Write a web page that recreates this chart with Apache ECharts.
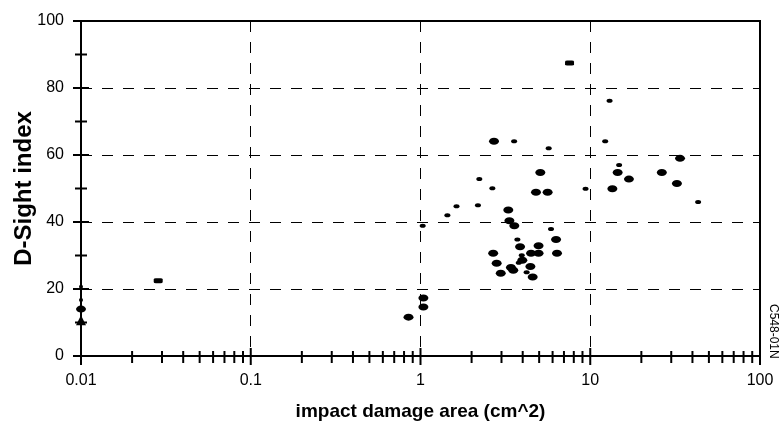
<!DOCTYPE html>
<html>
<head>
<meta charset="utf-8">
<script src="https://cdn.jsdelivr.net/npm/echarts@6/dist/echarts.min.js"></script>
<style>
html,body{margin:0;padding:0;background:#fff;}
#chart{width:783px;height:427px;}
</style>
</head>
<body>
<div id="chart"></div>
<script>
// ---- data ----
var bigX = [2.71, 5.08, 14.5, 16.9, 4.79, 5.61, 13.5, 33.8, 26.4, 32.4, 3.29, 3.34, 3.57, 6.29, 3.86, 4.96, 2.68, 4.48, 4.96, 6.37, 3.98, 2.81, 3.41, 3.52, 4.44, 2.97, 4.58, 1.04, 1.04, 0.85, 0.01];
var bigY = [64.1, 54.8, 54.8, 52.8, 48.9, 48.9, 49.9, 59.0, 54.8, 51.5, 43.6, 40.4, 38.9, 34.8, 32.6, 32.9, 30.7, 30.7, 30.7, 30.7, 28.6, 27.7, 26.4, 25.6, 26.7, 24.7, 23.6, 17.3, 14.6, 11.6, 14.0];
var medX = [0.0285, 7.55];
var medY = [22.5, 87.5];
var smallX = [13.0, 3.56, 12.25, 5.69, 14.8, 2.22, 2.65, 9.38, 43.2, 1.63, 2.18, 1.44, 1.03, 5.87, 3.72, 3.95, 3.79, 4.22];
var smallY = [76.2, 64.1, 64.1, 62.0, 57.0, 52.8, 50.1, 49.9, 46.0, 44.7, 45.0, 42.0, 38.9, 37.9, 34.8, 30.1, 27.8, 25.0];
var tinyX = [0.01, 0.01];
var tinyY = [16.7, 20.7];
var triX = [0.01];
var triY = [10.7];

var xTickValues = [0.01, 0.1, 1, 10, 100];
var xTickLabels = ['0.01', '0.1', '1', '10', '100'];
var yTickValues = [0, 20, 40, 60, 80, 100];
var yMinorValues = [10, 30, 50, 70, 90];
var xMinorMultipliers = [2, 3, 4, 5, 6, 7, 8, 9];

var xTitle = 'impact damage area (cm^2)';
var yTitle = 'D-Sight index';
var tagText = 'C548-01N';

function zip(xs, ys) { return xs.map(function (x, i) { return [x, ys[i]]; }); }

var xMinorValues = [];
for (var d = 0; d < xTickValues.length - 1; d++) {
  xMinorMultipliers.forEach(function (m) { xMinorValues.push(xTickValues[d] * m); });
}

var ellipse = 'path://M0,5 A5,5 0 1,1 10,5 A5,5 0 1,1 0,5 Z';
var FONT = 'Liberation Sans, Arial, sans-serif';

function tickSeries(items, dir) {
  return {
    type: 'custom',
    silent: true,
    clip: false,
    z: 3,
    data: items,
    renderItem: function (params, api) {
      var v = api.value(0), kind = api.value(1);
      var p, shape;
      if (dir === 'x') {
        p = api.coord([v, 0]);
        var up = kind === 1 ? 8 : 5, dn = kind === 1 ? 9 : 7;
        shape = { x1: p[0], y1: p[1] - up, x2: p[0], y2: p[1] + dn };
      } else {
        p = api.coord([0.01, v]);
        var l = kind === 1 ? 8 : 6;
        shape = { x1: p[0] - l, y1: p[1], x2: p[0] + l, y2: p[1] };
      }
      return { type: 'line', shape: shape, style: { stroke: '#000', lineWidth: 2 } };
    }
  };
}

var xTickData = xTickValues.map(function (v) { return [v, 1]; }).concat(xMinorValues.map(function (v) { return [v, 0]; }));
var yTickData = yTickValues.map(function (v) { return [v, 1]; }).concat(yMinorValues.map(function (v) { return [v, 0]; }));

var dot = { color: '#000', opacity: 1 };
function scatter(symbol, size, xs, ys) {
  return { type: 'scatter', clip: false, z: 10, symbol: symbol, symbolSize: size, itemStyle: dot, emphasis: { disabled: true }, data: zip(xs, ys) };
}

var chart = echarts.init(document.getElementById('chart'), null, { renderer: 'canvas' });
chart.setOption({
  animation: false,
  backgroundColor: '#fff',
  grid: { left: 81, right: 23, top: 21, bottom: 71, containLabel: false, outerBoundsMode: 'none', show: true, borderColor: '#000', borderWidth: 2 },
  xAxis: {
    type: 'log', logBase: 10, min: 0.01, max: 100,
    name: xTitle, nameLocation: 'middle', nameGap: 46, nameMoveOverlap: false,
    nameTextStyle: { fontFamily: FONT, fontWeight: 'bold', fontSize: 19, color: '#000' },
    axisLine: { lineStyle: { color: '#000', width: 2 } },
    axisTick: { show: false },
    minorTick: { show: false },
    axisLabel: {
      fontFamily: FONT, fontSize: 16, color: '#000', margin: 17,
      formatter: function (v) {
        var i = Math.round(Math.log10(v)) + 2;
        return xTickLabels[i] !== undefined ? xTickLabels[i] : '';
      }
    },
    splitLine: { show: true, showMinLine: false, showMaxLine: false, lineStyle: { color: '#000', width: 1, type: [11, 10] } }
  },
  yAxis: {
    type: 'value', min: 0, max: 100, interval: 20,
    name: yTitle, nameLocation: 'middle', nameGap: 45, nameRotate: 90, nameMoveOverlap: false,
    nameTextStyle: { fontFamily: FONT, fontWeight: 'bold', fontSize: 24, color: '#000' },
    axisLine: { lineStyle: { color: '#000', width: 2 } },
    axisTick: { show: false },
    axisLabel: { fontFamily: FONT, fontSize: 16, color: '#000', margin: 17 },
    splitLine: { show: true, showMinLine: false, showMaxLine: false, lineStyle: { color: '#000', width: 1, type: [11, 10] } }
  },
  graphic: [{
    type: 'text', left: 767, top: 304, rotation: -Math.PI / 2, originX: 0, originY: 0,
    style: { text: tagText, font: '12px ' + FONT, fill: '#000' }
  }],
  series: [
    tickSeries(xTickData, 'x'),
    tickSeries(yTickData, 'y'),
    scatter(ellipse, [10, 7], bigX, bigY),
    scatter('roundRect', [9, 5], medX, medY),
    scatter(ellipse, [6, 4], smallX, smallY),
    scatter('circle', 4, tinyX, tinyY),
    scatter('triangle', 10, triX, triY)
  ]
});
</script>
</body>
</html>
